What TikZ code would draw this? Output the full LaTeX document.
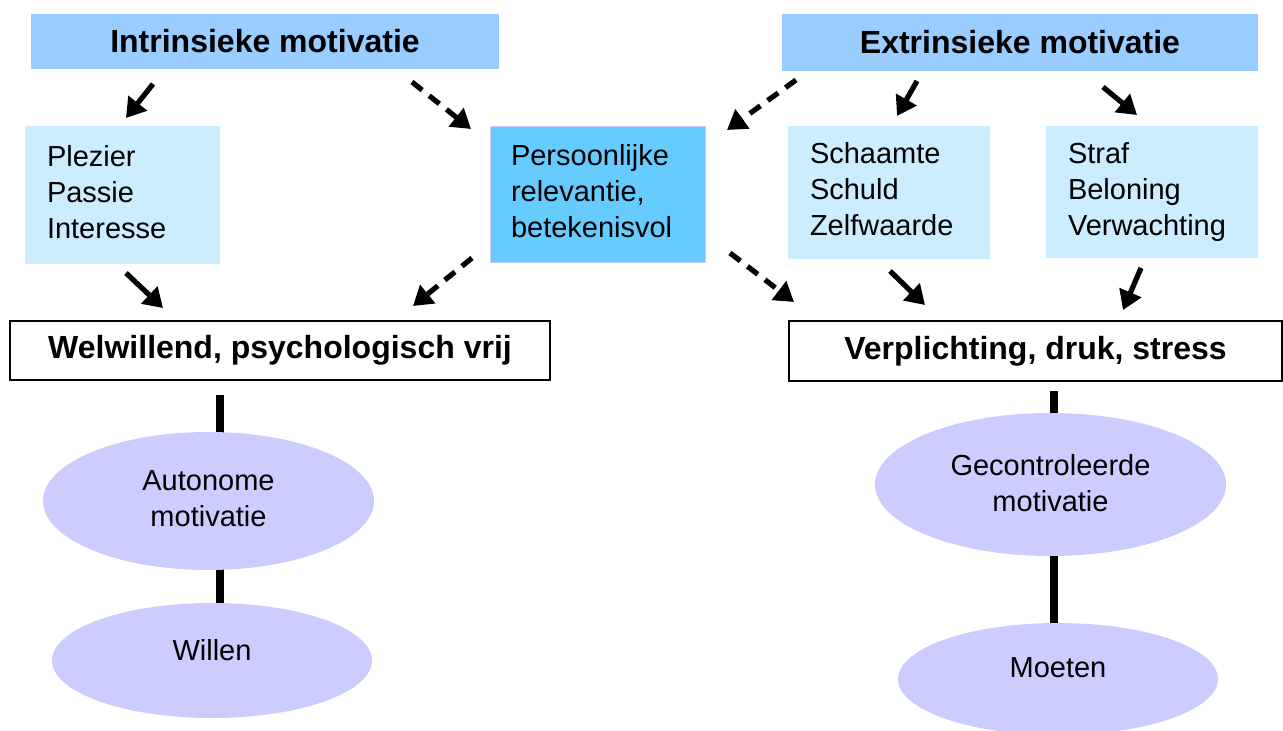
\documentclass[tikz,border=0pt]{standalone}
\usepackage{fontspec}
\setmainfont{Liberation Sans}
\usetikzlibrary{arrows.meta,backgrounds,shapes.geometric}
\definecolor{hdrblue}{HTML}{99CCFF}
\definecolor{litblue}{HTML}{CCECFF}
\definecolor{midblue}{HTML}{66CCFF}
\definecolor{lavender}{HTML}{CCCCFF}
\begin{document}
\begin{tikzpicture}[x=1pt,y=-1pt,
 hdr/.style={fill=hdrblue, draw=none, inner sep=0pt, font=\fontsize{32}{38}\selectfont\bfseries},
 listbox/.style={fill=litblue, draw=none, inner xsep=22pt, inner ysep=0pt, align=left, font=\fontsize{29}{36}\selectfont},
 outbox/.style={draw=black, line width=1.3pt, fill=white, font=\fontsize{32}{38}\selectfont\bfseries, inner sep=0pt},
 ell/.style={ellipse, fill=lavender, draw=none, inner sep=0pt},
 elltext/.style={font=\fontsize{29}{36}\selectfont, align=center, inner sep=0pt},
 arr/.style={line width=5.2pt, -{Triangle[length=19pt,width=23pt]}},
 darr/.style={arr, dash pattern=on 13pt off 9pt},
 vline/.style={line width=8pt},
]
\useasboundingbox (0,0) rectangle (1283,731);

% header boxes
\node[hdr, minimum width=468pt, minimum height=55pt] (intr) at (265,41.5) {Intrinsieke motivatie};
\node[hdr, minimum width=476pt, minimum height=57pt] (extr) at (1020,42.5) {Extrinsieke motivatie};

% list boxes
\node[listbox, text width=151pt, minimum height=138pt] (plez) at (122.5,195) {\strut Plezier\\Passie\\Interesse\strut};
\node[listbox, fill=midblue, draw=lavender, line width=1pt, inner xsep=21pt, text width=173pt, minimum height=136pt] (pers) at (597.5,194) {\strut Persoonlijke\\relevantie,\\betekenisvol\strut};
\node[listbox, text width=158pt, minimum height=133pt] (scha) at (889,192.5) {\strut Schaamte\\Schuld\\Zelfwaarde\strut};
\node[listbox, text width=168pt, minimum height=132pt] (straf) at (1152,192) {\strut Straf\\Beloning\\Verwachting\strut};

% outcome boxes
\node[outbox, minimum width=540pt, minimum height=59pt] (welw) at (280,350.5) {Welwillend, psychologisch vrij};
\node[outbox, minimum width=493pt, minimum height=60pt] (verp) at (1035.5,351) {Verplichting, druk, stress};

% ellipses
\node[ell, minimum width=331pt, minimum height=138pt] (auto) at (208.5,501) {};
\node[elltext] (autot) at (208.5,499) {Autonome\\motivatie};
\node[ell, minimum width=320pt, minimum height=115pt] (will) at (212,660.5) {};
\node[elltext] (willt) at (212,650) {Willen};
\node[ell, minimum width=351pt, minimum height=143pt] (gec) at (1050.5,484.5) {};
\node[elltext] (gect) at (1050.5,483) {Gecontroleerde\\motivatie};
\node[ell, minimum width=320pt, minimum height=112pt] (moe) at (1058,679) {};
\node[elltext] (moet) at (1058,668) {Moeten};

% vertical connectors
\coordinate (la) at (220,395);
\coordinate (ra) at (1054,391);
\begin{scope}[on background layer]
\draw[vline] (la) -- (la |- auto.center);
\draw[vline] (la |- auto.center) -- (la |- will.center);
\draw[vline] (ra) -- (ra |- gec.center);
\draw[vline] (ra |- gec.center) -- (ra |- moe.center);
\end{scope}

% arrow end points
\coordinate (a1s) at (153,84);   \coordinate (a1e) at (126,118);
\coordinate (a2s) at (412,82);   \coordinate (a2e) at (471,129);
\coordinate (a3s) at (126,273);  \coordinate (a3e) at (163,308);
\coordinate (a4s) at (472,258);  \coordinate (a4e) at (413,306);
\coordinate (a5s) at (796,80);   \coordinate (a5e) at (727,130);
\coordinate (a6s) at (917,81);   \coordinate (a6e) at (897,116);
\coordinate (a7s) at (1103,87);  \coordinate (a7e) at (1137,115);
\coordinate (a8s) at (730,253);  \coordinate (a8e) at (794,302);
\coordinate (a9s) at (890,271);  \coordinate (a9e) at (925,305);
\coordinate (a10s) at (1141,268); \coordinate (a10e) at (1123,310);

\draw[arr]  (a1s) -- (a1e);
\draw[darr] (a2s) -- (a2e);
\draw[arr]  (a3s) -- (a3e);
\draw[darr] (a4s) -- (a4e);
\draw[darr] (a5s) -- (a5e);
\draw[arr]  (a6s) -- (a6e);
\draw[arr]  (a7s) -- (a7e);
\draw[darr] (a8s) -- (a8e);
\draw[arr]  (a9s) -- (a9e);
\draw[arr]  (a10s) -- (a10e);
\end{tikzpicture}
\end{document}
